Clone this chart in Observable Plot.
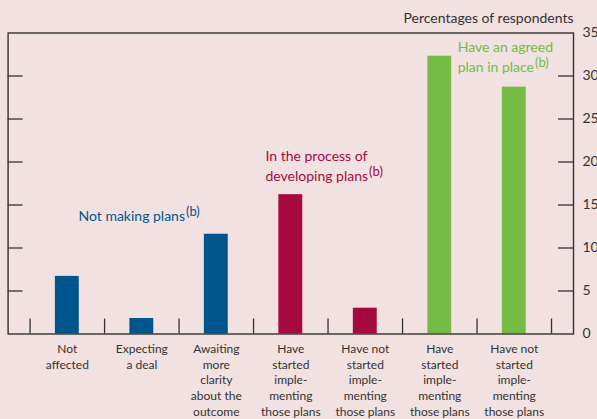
<!DOCTYPE html>
<html><head><meta charset="utf-8">
<script src="https://cdn.jsdelivr.net/npm/d3@7"></script>
<script src="https://cdn.jsdelivr.net/npm/@observablehq/plot@0.6"></script>
<style>
html,body{margin:0;padding:0;background:#f2e1e1;}
#chart{width:597px;height:419px;}
</style></head><body><div id="chart"></div>
<script>
const categories = [
  "Not\naffected",
  "Expecting\na deal",
  "Awaiting\nmore\nclarity\nabout the\noutcome",
  "Have\nstarted\nimple-\nmenting\nthose plans",
  "Have not\nstarted\nimple-\nmenting\nthose plans",
  "Have\nstarted\nimple-\nmenting\nthose plans",
  "Have not\nstarted\nimple-\nmenting\nthose plans"
];
const values = [6.7, 1.8, 11.6, 16.2, 3.0, 32.3, 28.7];
const groups = ["none", "none", "none", "developing", "developing", "agreed", "agreed"];
const groupNames = ["none", "developing", "agreed"];
const groupColors = ["#00568c", "#a6093f", "#74bc44"];
const yTicks = [0, 5, 10, 15, 20, 25, 30, 35];
const innerTicks = [5, 10, 15, 20, 25, 30];
const annoText = ["Not making plans", "In the process of\ndeveloping plans", "Have an agreed\nplan in place"];
const annoGroup = ["none", "developing", "agreed"];
const annoX = [0.15, 2.66, 5.24];
const annoY = [13.1, 17.8, 30.5];
const unitLabel = "Percentages of respondents";

const xMin = -0.795, xMax = 6.795;
const color = g => groupColors[groupNames.indexOf(g)];
const data = values.map((v, i) => ({i, value: v, group: groups[i]}));
const annos = annoText.map((t, k) => ({text: t, group: annoGroup[k], x: annoX[k], y: annoY[k]}));
const ink = "#333";

const chart = Plot.plot({
  width: 597, height: 419,
  marginTop: 32.5, marginBottom: 85.5, marginLeft: 7.6, marginRight: 24,
  style: {fontFamily: "Lato", color: ink, background: "transparent"},
  x: {type: "linear", domain: [xMin, xMax], axis: null},
  y: {domain: [0, 35], axis: null},
  marks: [
    Plot.rectY(data, {x1: d => d.i - 0.5, x2: d => d.i + 0.5, y: "value", fill: d => color(d.group), insetLeft: 25.3, insetRight: 25.3}),
    Plot.ruleX(d3.range(8).map(i => i - 0.5), {x: d => d, y1: 0, y2: 0, insetTop: -15, stroke: ink, strokeWidth: 1.3}),
    Plot.ruleY(innerTicks, {y: d => d, x1: xMin, x2: xMin, insetRight: -15, stroke: ink, strokeWidth: 1.3}),
    Plot.ruleY(innerTicks, {y: d => d, x1: xMax, x2: xMax, insetLeft: -15, stroke: ink, strokeWidth: 1.3}),
    Plot.frame({stroke: ink, strokeWidth: 1.4}),
    Plot.axisY(yTicks, {anchor: "right", tickSize: 0, tickPadding: 9, fontSize: 14, label: null, fill: ink}),
    Plot.axisX(d3.range(7), {anchor: "bottom", tickSize: 0, tickPadding: 7.5, fontSize: 12, lineHeight: 1.32, tickFormat: i => categories[i], label: null, fill: ink}),
    Plot.text([unitLabel], {x: xMax, y: 35, text: d => d, textAnchor: "end", lineAnchor: "bottom", dy: -10, fontSize: 14, fill: ink}),
    Plot.text(annos, {x: "x", y: "y", text: "text", textAnchor: "start", lineAnchor: "bottom", fontSize: 14, lineHeight: 1.43, fill: d => color(d.group)})
  ]
});

// add superscript "(b)" to annotations
chart.querySelectorAll("text").forEach(t => {
  const flat = t.textContent;
  if (annoText.some(a => a.replace(/\n/g, "") === flat)) {
    const ts = document.createElementNS("http://www.w3.org/2000/svg", "tspan");
    ts.setAttribute("dy", "-5");
    ts.setAttribute("dx", "1");
    ts.setAttribute("font-size", "13");
    ts.textContent = "(b)";
    t.appendChild(ts);
  }
});

document.getElementById("chart").appendChild(chart);
</script>
</body></html>
